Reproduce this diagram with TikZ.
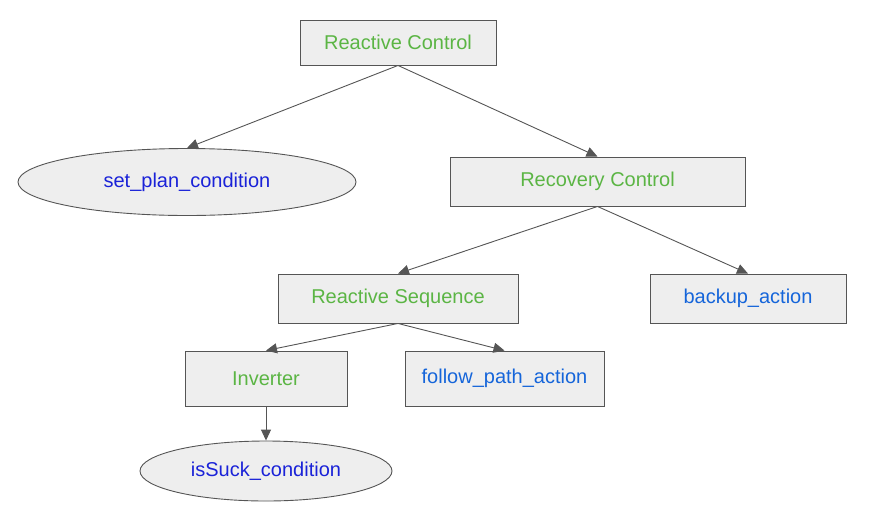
\documentclass[tikz,border=0pt]{standalone}
\usepackage{fontspec}
\setmainfont{Liberation Sans}
\usetikzlibrary{shapes.geometric,arrows.meta}
\definecolor{ctlgreen}{HTML}{5BB544}
\definecolor{actblue}{HTML}{1565DA}
\definecolor{condblue}{HTML}{1A22D8}
\definecolor{nodefill}{HTML}{EEEEEE}
\definecolor{linegray}{HTML}{555555}
\tikzset{
  base/.style={draw=linegray, fill=nodefill, line width=0.9pt, inner sep=0pt, font=\fontsize{20}{24}\selectfont},
  ctl/.style={base, rectangle, text=ctlgreen},
  act/.style={base, rectangle, text=actblue},
  cond/.style={base, ellipse, text=condblue},
  edge/.style={draw=linegray, line width=0.9pt, -{Triangle[length=11pt,width=10pt]}}
}
\begin{document}
\begin{tikzpicture}[x=1pt,y=-1pt]
\useasboundingbox (0,0) rectangle (869,520);
\node[ctl, minimum width=196pt, minimum height=45pt] (rc) at (398,42.5) {Reactive Control};
\node[cond, minimum width=338pt, minimum height=67pt] (spc) at (187,182) {set\_plan\_condition};
\node[ctl, minimum width=295pt, minimum height=49pt] (rec) at (597.5,181.5) {Recovery Control};
\node[ctl, minimum width=240pt, minimum height=49pt] (rs) at (398,298.5) {Reactive Sequence};
\node[act, minimum width=196pt, minimum height=49pt] (ba) at (748,298.5) {backup\_action};
\node[ctl, minimum width=162pt, minimum height=55pt] (inv) at (266,378.5) {Inverter};
\node[act, minimum width=199pt, minimum height=55pt] (fpa) at (504.5,378.5) {follow\_path\_action};
\node[cond, minimum width=252pt, minimum height=60pt] (isc) at (266,471) {isSuck\_condition};
\draw[edge] (rc.south) -- (spc.north);
\draw[edge] (rc.south) -- (rec.north);
\draw[edge] (rec.south) -- (rs.north);
\draw[edge] (rec.south) -- (ba.north);
\draw[edge] (rs.south) -- (inv.north);
\draw[edge] (rs.south) -- (fpa.north);
\draw[edge] (inv.south) -- (isc.north);
\end{tikzpicture}
\end{document}
